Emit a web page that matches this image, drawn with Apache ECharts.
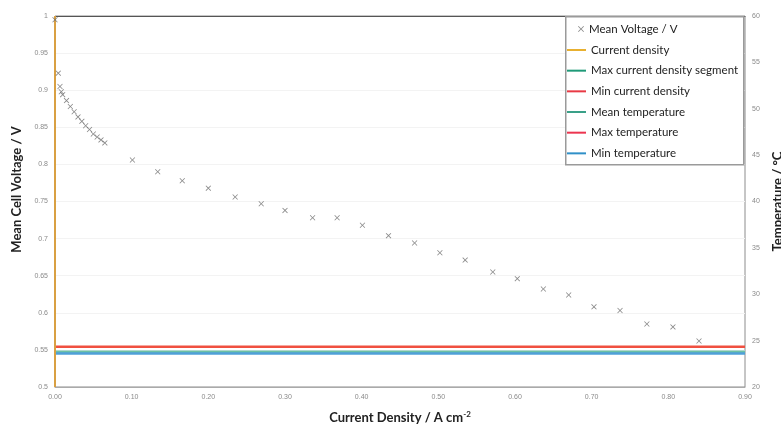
<!DOCTYPE html>
<html>
<head>
<meta charset="utf-8">
<script src="https://cdn.jsdelivr.net/npm/echarts@6/dist/echarts.min.js"></script>
<style>html,body{margin:0;padding:0;background:#fff}#c{width:781px;height:426px}</style>
</head>
<body>
<div id="c"></div>
<script>
// Data
var currentDensity = [0, 0.0043, 0.0065, 0.0082, 0.010, 0.015, 0.020, 0.025, 0.030, 0.035, 0.040, 0.045, 0.050, 0.055, 0.060, 0.065,
  0.101, 0.134, 0.166, 0.200, 0.235, 0.269, 0.300, 0.336, 0.368, 0.401, 0.435, 0.469, 0.502, 0.535, 0.571, 0.603, 0.637, 0.670, 0.703, 0.737, 0.772, 0.806, 0.840];
var meanVoltage = [0.995, 0.923, 0.905, 0.898, 0.894, 0.886, 0.878, 0.871, 0.864, 0.858, 0.852, 0.847, 0.841, 0.837, 0.833, 0.829,
  0.806, 0.790, 0.778, 0.768, 0.756, 0.747, 0.738, 0.728, 0.728, 0.718, 0.704, 0.694, 0.681, 0.671, 0.655, 0.646, 0.632, 0.624, 0.608, 0.603, 0.585, 0.581, 0.562];
var verticalX = [0, 0];
var verticalV = [0.5, 1.0];
var tempX = [0, 0.9];
var meanTemp = [23.8, 23.8];
var maxTemp = [24.35, 24.35];
var minTemp = [23.6, 23.6];
var xTicks = {min: 0, max: 0.9, interval: 0.1};
var vTicks = {min: 0.5, max: 1.0, interval: 0.05};
var tTicks = {min: 20, max: 60, interval: 5};

function pairs(xs, ys) { return xs.map(function (x, i) { return [x, ys[i]]; }); }

var crossPath = 'path://M0,1 L1,0 L5,4 L9,0 L10,1 L6,5 L10,9 L9,10 L5,6 L1,10 L0,9 L4,5 Z';
var tickFont = {fontFamily: 'Liberation Sans', fontSize: 7, color: '#8a8a8a'};
var nameFont = {fontFamily: 'Lato', fontWeight: 'bold', fontSize: 13, color: '#222'};
var legendText = {fontFamily: 'Lato', fontSize: 11.5, color: '#222', lineHeight: 14};

var chart = echarts.init(document.getElementById('c'), null, {renderer: 'canvas'});
chart.setOption({
  animation: false,
  backgroundColor: '#fff',
  grid: {left: 55, right: 36, top: 16, bottom: 39, show: true, borderColor: '#8c8c8c', borderWidth: 1,
    containLabel: false, outerBoundsMode: 'none'},
  xAxis: [{
    type: 'value', min: xTicks.min, max: xTicks.max, interval: xTicks.interval,
    name: 'Current Density / A cm{sup|-2}', nameLocation: 'middle', nameGap: 23,
    nameTextStyle: {fontFamily: 'Lato', fontWeight: 'bold', fontSize: 13, color: '#222',
      rich: {sup: {fontFamily: 'Lato', fontWeight: 'bold', fontSize: 8, color: '#222', padding: [0, 0, 7, 0]}}},
    axisLine: {show: true, lineStyle: {color: '#aaa'}},
    axisTick: {show: false},
    splitLine: {show: false},
    axisLabel: Object.assign({margin: 7, formatter: function (v) { return v.toFixed(2); }}, tickFont)
  }, {
    type: 'value', position: 'top', min: xTicks.min, max: xTicks.max, interval: xTicks.interval,
    axisLine: {show: true, lineStyle: {color: '#555'}},
    axisTick: {show: false}, axisLabel: {show: false}, splitLine: {show: false}
  }],
  yAxis: [{
    type: 'value', min: vTicks.min, max: vTicks.max, interval: vTicks.interval,
    name: 'Mean Cell Voltage / V', nameLocation: 'middle', nameGap: 24, nameRotate: 90,
    nameTextStyle: Object.assign({padding: [0, 0, 0, 24]}, nameFont),
    axisLine: {show: false}, axisTick: {show: false},
    splitLine: {show: true, lineStyle: {color: '#f3f3f3'}},
    axisLabel: Object.assign({margin: 7, formatter: function (v) { return String(+v.toFixed(2)); }}, tickFont)
  }, {
    type: 'value', position: 'right', min: tTicks.min, max: tTicks.max, interval: tTicks.interval,
    name: 'Temperature / °C', nameLocation: 'middle', nameGap: 26, nameRotate: 90,
    nameTextStyle: nameFont,
    axisLine: {show: false}, axisTick: {show: false}, splitLine: {show: false},
    axisLabel: Object.assign({margin: 7}, tickFont)
  }],
  legend: [{
    left: 578, top: 22, orient: 'vertical', itemWidth: 6, itemHeight: 6, padding: 0, z: 10,
    textStyle: legendText,
    data: ['Mean Voltage / V']
  }, {
    left: 567, top: 43, orient: 'vertical', itemWidth: 19, itemHeight: 2, itemGap: 6.67, padding: 0, z: 10,
    icon: 'rect',
    textStyle: legendText,
    data: ['Current density', 'Max current density segment', 'Min current density', 'Mean temperature', 'Max temperature', 'Min temperature']
  }],
  graphic: [{
    type: 'rect', left: 565, top: 16, z: 8,
    shape: {width: 178, height: 148},
    style: {fill: '#fff', stroke: '#9a9a9a', lineWidth: 1.5}
  }],
  series: [{
    name: 'Mean Voltage / V', type: 'scatter', yAxisIndex: 0,
    symbol: crossPath, symbolSize: 5.5,
    itemStyle: {color: '#6a6a6a'},
    data: pairs(currentDensity, meanVoltage), z: 4
  }, {
    name: 'Max current density segment', type: 'line', yAxisIndex: 0, symbol: 'none', clip: false,
    lineStyle: {color: '#1f9a78', width: 2}, itemStyle: {color: '#1f9a78'},
    data: pairs(verticalX, verticalV), z: 1
  }, {
    name: 'Min current density', type: 'line', yAxisIndex: 0, symbol: 'none', clip: false,
    lineStyle: {color: '#e83a45', width: 2}, itemStyle: {color: '#e83a45'},
    data: pairs(verticalX, verticalV), z: 1
  }, {
    name: 'Current density', type: 'line', yAxisIndex: 0, symbol: 'none', clip: false,
    lineStyle: {color: '#d9a043', width: 2}, itemStyle: {color: '#e8b030'},
    data: pairs(verticalX, verticalV), z: 3
  }, {
    name: 'Mean temperature', type: 'line', yAxisIndex: 1, symbol: 'none',
    lineStyle: {color: '#6cc0a6', width: 2.5}, itemStyle: {color: '#3aa088'},
    data: pairs(tempX, meanTemp), z: 2
  }, {
    name: 'Max temperature', type: 'line', yAxisIndex: 1, symbol: 'none',
    lineStyle: {color: '#f05040', width: 2.5}, itemStyle: {color: '#ec3550'},
    data: pairs(tempX, maxTemp), z: 2
  }, {
    name: 'Min temperature', type: 'line', yAxisIndex: 1, symbol: 'none',
    lineStyle: {color: '#4fa0d8', width: 2.5}, itemStyle: {color: '#3090c8'},
    data: pairs(tempX, minTemp), z: 2
  }]
});
</script>
</body>
</html>
